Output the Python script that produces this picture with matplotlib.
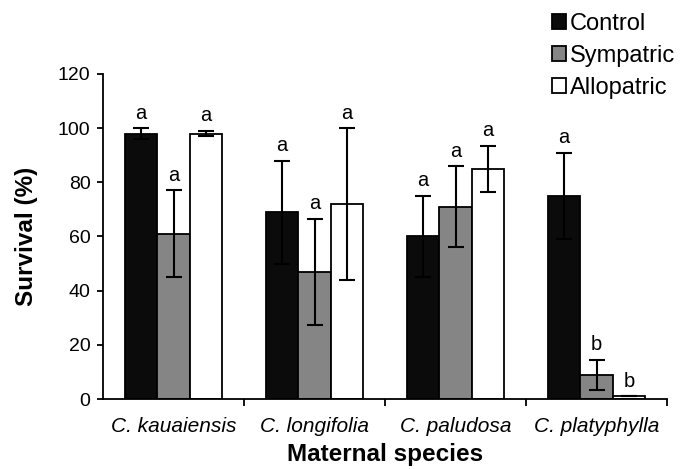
import numpy as np
import matplotlib
matplotlib.use("Agg")
import matplotlib.pyplot as plt

# data (mean survival %, +/- error)
species = ["C. kauaiensis", "C. longifolia", "C. paludosa", "C. platyphylla"]
treatments = ["Control", "Sympatric", "Allopatric"]

control = [98, 69, 60, 75]
control_err = [2, 19, 15, 16]
sympatric = [61, 47, 71, 9]
sympatric_err = [16, 19.5, 15, 5.5]
allopatric = [98, 72, 85, 1]
allopatric_err = [1, 28, 8.5, 0]

control_letters = ["a", "a", "a", "a"]
sympatric_letters = ["a", "a", "a", "b"]
allopatric_letters = ["a", "a", "a", "b"]

yticks = [0, 20, 40, 60, 80, 100, 120]

plt.rcParams["font.family"] = ["Liberation Sans", "DejaVu Sans"]

fig = plt.figure(figsize=(6.81, 4.69), dpi=100)
ax = fig.add_axes([103 / 681, 1 - 399 / 469, 564 / 681, 325 / 469])

x = np.arange(len(species))
width = 0.23
series = [
    (control, control_err, control_letters, "#0b0b0b"),
    (sympatric, sympatric_err, sympatric_letters, "#858585"),
    (allopatric, allopatric_err, allopatric_letters, "white"),
]

for i, (vals, errs, letters, col) in enumerate(series):
    pos = x + (i - 1) * width
    ax.bar(pos, vals, width, color=col, edgecolor="black", linewidth=1.3,
           label=treatments[i], zorder=2)
    ax.errorbar(pos, vals, yerr=errs, fmt="none", ecolor="black",
                elinewidth=1.5, capsize=5.5, capthick=1.5, zorder=3)
    for p, v, e, t in zip(pos, vals, errs, letters):
        ax.text(p, v + e + 2, t, ha="center", va="bottom", fontsize=14.5)

ax.set_xlim(-0.5, 3.5)
ax.set_ylim(0, 120)
ax.set_yticks(yticks)
ax.tick_params(axis="y", labelsize=14, length=4, width=1.3, pad=5)

ax.set_xticks(x)
ax.set_xticklabels(species, fontstyle="italic", fontsize=15)
ax.set_xticks(x + 0.5, minor=True)
ax.tick_params(axis="x", which="major", length=0, pad=13)
ax.tick_params(axis="x", which="minor", length=5, width=1.3)

for s in ["top", "right"]:
    ax.spines[s].set_visible(False)
for s in ["left", "bottom"]:
    ax.spines[s].set_linewidth(1.3)

ax.set_xlabel("Maternal species", fontsize=17.5, fontweight="bold", labelpad=5)
ax.set_ylabel("Survival (%)", fontsize=17.5, fontweight="bold", labelpad=14)

fig.legend(loc="upper left", bbox_to_anchor=(552 / 681, 1 - 13 / 469),
           frameon=False, fontsize=17, handlelength=0.6, handleheight=0.6,
           handletextpad=0.15, labelspacing=0.42, borderpad=0, borderaxespad=0)

fig.savefig("out.png", dpi=100)
